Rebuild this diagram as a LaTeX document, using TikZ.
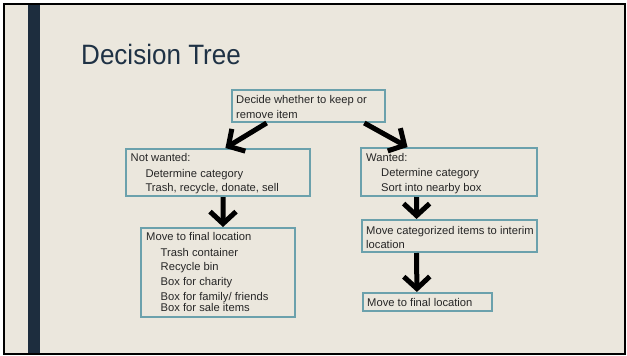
\documentclass[tikz,border=0pt]{standalone}
\usepackage{fontspec}
\setmainfont{Liberation Sans}
\usetikzlibrary{arrows.meta,calc}
\definecolor{bg}{HTML}{EBE7DD}
\definecolor{barc}{HTML}{1D2D3E}
\definecolor{tealc}{HTML}{6BA1AC}
\definecolor{titlec}{HTML}{1F3245}
\definecolor{txtc}{HTML}{262626}
\begin{document}
\begin{tikzpicture}[x=1pt,y=-1pt,
  box/.style={draw=tealc, line width=2pt, fill=bg, inner sep=0pt},
  txt/.style={anchor=base west, inner sep=0pt, text=txtc, font=\fontsize{11.2}{13}\selectfont},
  arr/.style={line width=5pt, -{Straight Barb[length=12pt, width=26pt]}}]
\useasboundingbox (0,0) rectangle (627,356);
\fill[white] (0,0) rectangle (627,356);
\fill[bg] (4,4) rectangle (625,354);
\draw[black, line width=2pt] (4.3,3.7) rectangle (624.5,354.3);
\fill[barc] (28,5) rectangle (40,353.3);
\node[anchor=base west, inner sep=0pt, text=titlec, font=\fontsize{28}{30}\selectfont] (title) at (81,64) {\scalebox{0.93}[1]{Decision Tree}};
% boxes
\node[box, minimum width=153pt, minimum height=32pt] (top) at (308.5,106) {};
\node[box, minimum width=184pt, minimum height=47pt] (nw) at (218,172.5) {};
\node[box, minimum width=176pt, minimum height=48pt] (w) at (449,172) {};
\node[box, minimum width=175pt, minimum height=32pt] (cat) at (449.5,236) {};
\node[box, minimum width=154pt, minimum height=89pt] (fin) at (218,272.5) {};
\node[box, minimum width=129pt, minimum height=18pt] (fin2) at (427.5,302) {};
% texts
\node[txt] (t1) at (236,103) {Decide whether to keep or};
\node[txt] (t2) at (236,118) {remove item};
\node[txt] (n1) at (130.5,161.5) {Not wanted:};
\node[txt] (n2) at (145.3,177) {Determine category};
\node[txt] (n3) at (145.3,191) {Trash, recycle, donate, sell};
\node[txt] (w1) at (366,161) {Wanted:};
\node[txt] (w2) at (381,176.5) {Determine category};
\node[txt] (w3) at (381,191) {Sort into nearby box};
\node[txt] (c1) at (366,234) {Move categorized items to interim};
\node[txt] (c2) at (366,248.5) {location};
\node[txt] (f1) at (146,240.5) {Move to final location};
\node[txt] (f2) at (160.5,256.5) {Trash container};
\node[txt] (f3) at (160.5,270) {Recycle bin};
\node[txt] (f4) at (160.5,285) {Box for charity};
\node[txt] (f5) at (160.5,300) {Box for family/ friends};
\node[txt] (f6) at (160.5,311.5) {Box for sale items};
\node[txt] (g1) at (367,306) {Move to final location};
% arrows
\draw[arr] ($(top.south west)!0.23!(top.south east)$) -- ($(nw.north west)!0.54!(nw.north east)$);
\draw[arr] ($(top.south west)!0.86!(top.south east)$) -- ($(w.north west)!0.267!(w.north east)$);
\draw[arr] ($(nw.south west)!0.527!(nw.south east)$) -- ($(fin.north west)!0.532!(fin.north east)$);
\draw[arr] ($(w.south west)!0.318!(w.south east)$) -- ($(cat.north west)!0.314!(cat.north east)$);
\draw[arr] ($(cat.south west)!0.314!(cat.south east)$) -- ($(fin2.north west)!0.419!(fin2.north east)$);
\end{tikzpicture}
\end{document}
